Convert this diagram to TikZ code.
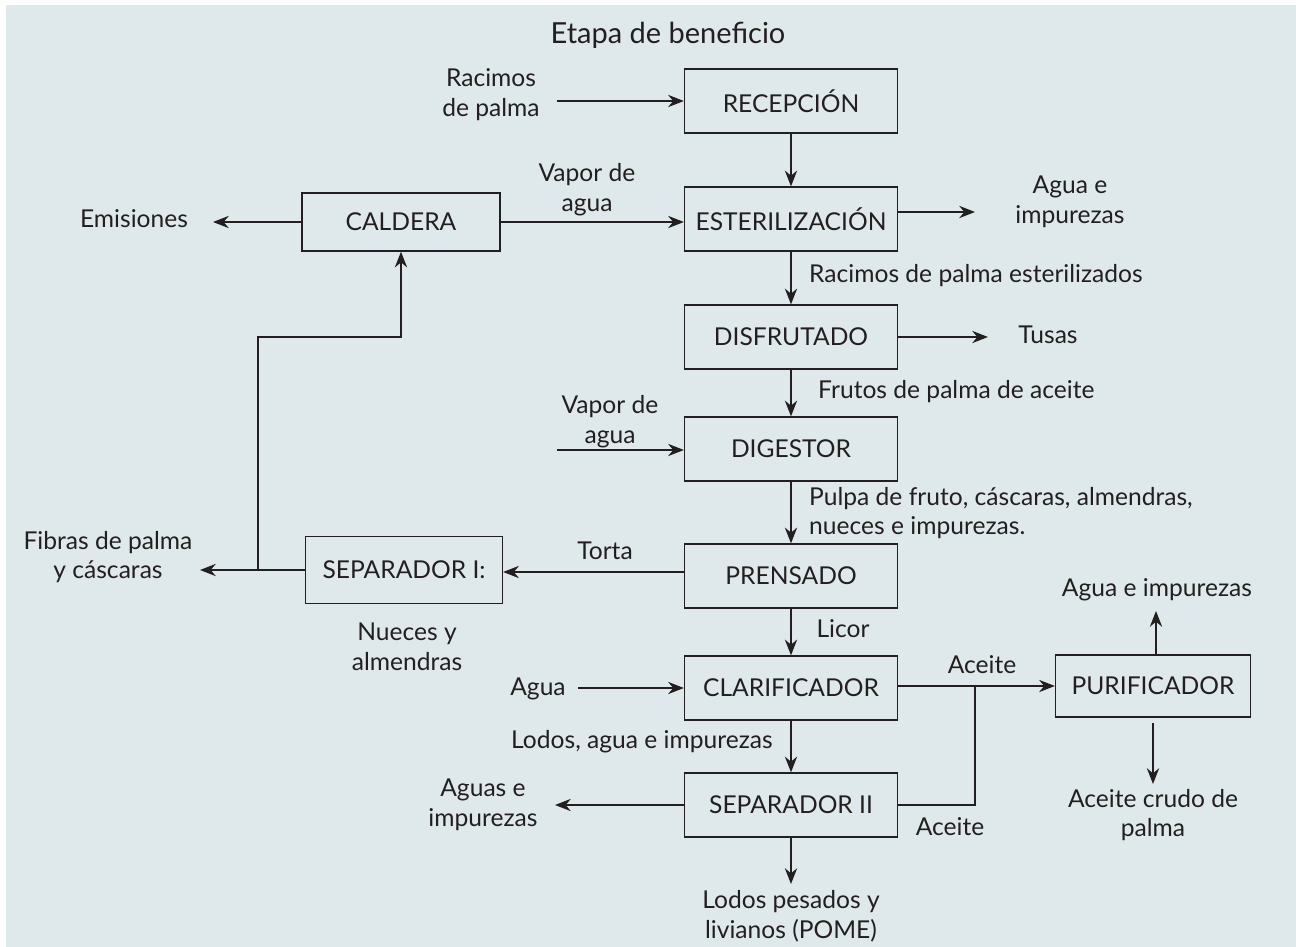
\documentclass[tikz,border=0pt]{standalone}
\usepackage{fontspec}
\setmainfont{Lato}
\usetikzlibrary{arrows.meta}
\definecolor{panelbg}{HTML}{DFE9EB}
\definecolor{inkc}{HTML}{231F20}
\tikzset{
  unitbox/.style={draw=inkc, line width=0.75pt, minimum width=4.26cm, minimum height=1.28cm, text=inkc},
  flowtxt/.style={align=center, text=inkc},
  flow/.style={->, draw=inkc, line width=0.75pt}
}
\begin{document}
\begin{tikzpicture}[x=0.02cm, y=-0.02cm, >={Stealth[length=9pt,width=7pt]},
    font=\fontsize{14}{17}\selectfont]
      \useasboundingbox (0,0) rectangle (1296,947);
      \fill[panelbg] (6,5) rectangle (1296,947);
      \node[flowtxt, font=\fontsize{16.5}{20}\selectfont] (title) at (668,35) {Etapa de beneficio};
      % main column
      \draw
        (791,101) node[unitbox] (recep){RECEPCIÓN}
        (791,219) node[unitbox] (ester){ESTERILIZACIÓN}
        (791,337) node[unitbox] (disf){DISFRUTADO}
        (791,449) node[unitbox] (dig){DIGESTOR}
        (791,576) node[unitbox] (pren){PRENSADO}
        (791,688) node[unitbox] (clar){CLARIFICADOR}
        (791,805) node[unitbox] (sepb){SEPARADOR II};
      % side units
      \draw
        (401,222) node[unitbox, minimum width=3.96cm, minimum height=1.16cm] (cald){CALDERA}
        (404,570) node[unitbox, minimum width=3.94cm, minimum height=1.34cm] (sepa){SEPARADOR I:}
        (1153,686) node[unitbox, minimum width=3.9cm, minimum height=1.24cm] (puri){PURIFICADOR};
      % stream labels
      \draw
        (491,95) node[flowtxt] (racimos){Racimos\\de palma}
        (134,219) node[flowtxt] (emis){Emisiones}
        (587,190) node[flowtxt] (vapa){Vapor de\\agua}
        (1070,202) node[flowtxt] (aguia){Agua e\\impurezas}
        (803,276) node[flowtxt, anchor=west] (racest){Racimos de palma esterilizados}
        (1048,335) node[flowtxt] (tusas){Tusas}
        (812,392) node[flowtxt, anchor=west] (frutos){Frutos de palma de aceite}
        (610,422) node[flowtxt] (vapb){Vapor de\\agua}
        (803,513) node[flowtxt, anchor=west, align=left] (pulpa){Pulpa de fruto, cáscaras, almendras,\\nueces e impurezas.}
        (605,551) node[flowtxt] (torta){Torta}
        (108,557) node[flowtxt] (fibras){Fibras de palma\\y cáscaras}
        (407,647) node[flowtxt] (nueces){Nueces y\\almendras}
        (843,629) node[flowtxt] (licor){Licor}
        (538,689) node[flowtxt] (agua){Agua}
        (982,665) node[flowtxt] (aceia){Aceite}
        (950,827) node[flowtxt] (aceib){Aceite}
        (642,742) node[flowtxt] (lodosa){Lodos, agua e impurezas}
        (483,805) node[flowtxt] (aguasb){Aguas e\\impurezas}
        (791,916) node[flowtxt] (lodosb){Lodos pesados y\\livianos (POME)}
        (1157,590) node[flowtxt] (aguib){Agua e impurezas}
        (1153,815) node[flowtxt] (crudo){Aceite crudo de\\palma};
      % free ends
      \coordinate (inrac) at (557,101);
      \coordinate (outemi) at (213,222);
      \coordinate (outaia) at (975,212);
      \coordinate (outtus) at (988,337);
      \coordinate (invap) at (557,450);
      \coordinate (outfib) at (200,570);
      \coordinate (jfib) at (258,570);
      \coordinate (jcal) at (401,337);
      \coordinate (inagu) at (578,688);
      \coordinate (jace) at (975,686);
      \coordinate (outags) at (555,805);
      \coordinate (outlod) at (791,884);
      \coordinate (outaib) at (1156,611);
      \coordinate (outcru) at (1153,784);
      \begin{scope}[flow]
        \draw (inrac) to (recep);
        \draw (recep) to (ester);
        \draw (cald) to (cald -| ester.west);
        \draw (cald) to (outemi);
        \draw (ester.east |- outaia) to (outaia);
        \draw (ester) to (disf);
        \draw (disf) to (outtus);
        \draw (disf) to (dig);
        \draw (invap) to (dig.west |- invap);
        \draw (dig) to (pren);
        \draw (pren.west |- 0,572) to (sepa.east |- 0,572);
        \draw (sepa) to (outfib);
        \draw (jfib) |- (jcal) to (cald);
        \draw (pren) to (clar);
        \draw (inagu) to (clar);
        \draw (clar.east |- puri) to (puri);
        \draw[-] (sepb) -| (jace);
        \draw (clar) to (sepb);
        \draw (sepb) to (outags);
        \draw (sepb) to (outlod);
        \draw (puri.north -| outaib) to (outaib);
        \draw ([yshift=-3]puri.south -| outcru) to (outcru);
      \end{scope}
    \end{tikzpicture}
\end{document}
